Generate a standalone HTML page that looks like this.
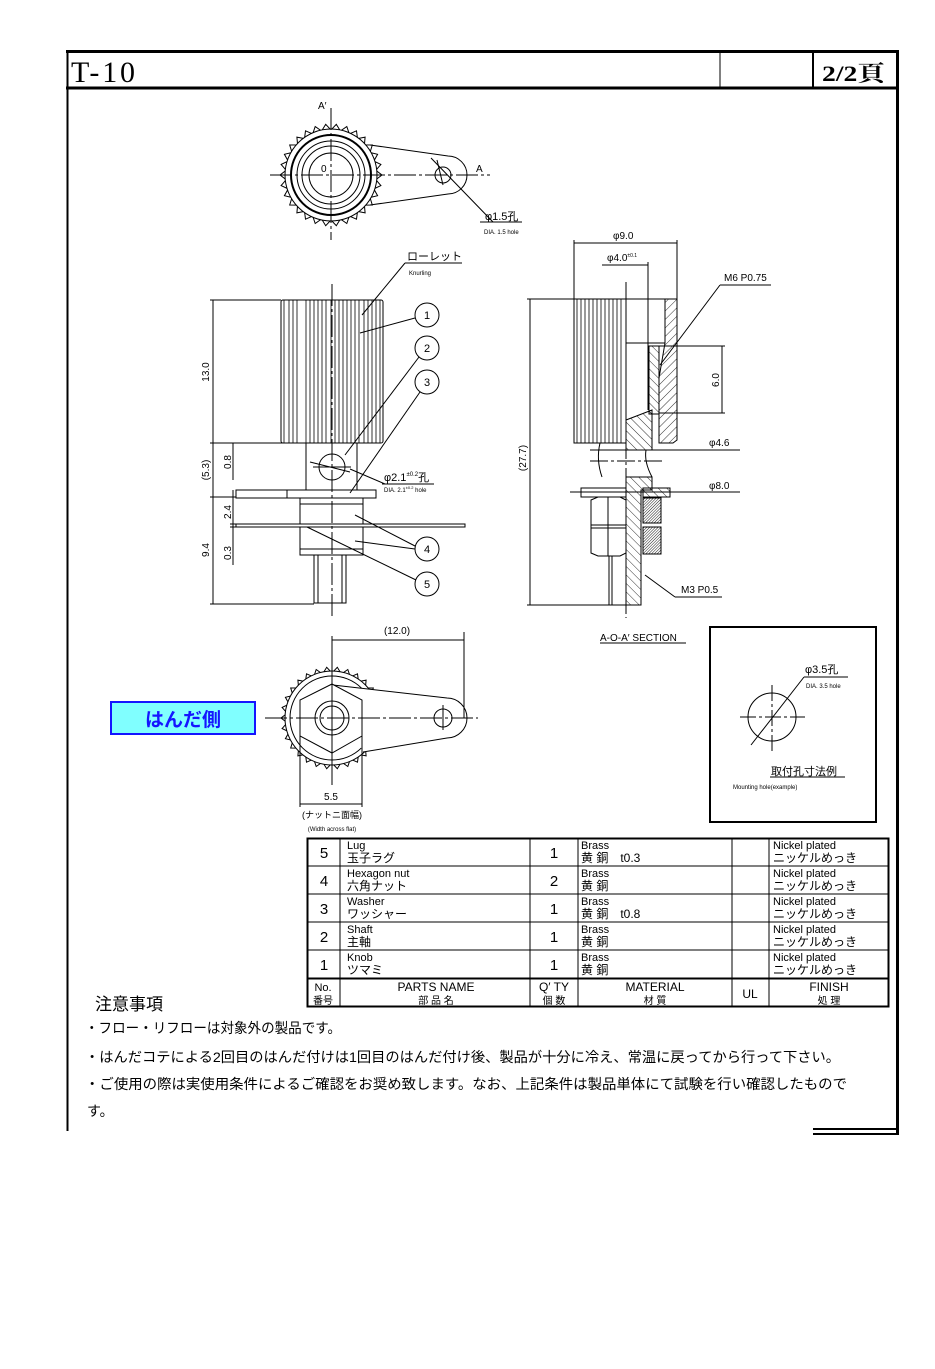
<!DOCTYPE html>
<html><head><meta charset="utf-8">
<style>
html,body{margin:0;padding:0;background:#fff;}
svg{display:block;}
text{font-family:"Liberation Sans","Noto Sans CJK JP",sans-serif;fill:#000;}
</style></head>
<body>
<svg id="s" width="935" height="1369" viewBox="0 0 935 1369" xmlns="http://www.w3.org/2000/svg">
<defs>
<pattern id="h" width="6" height="6" patternUnits="userSpaceOnUse" patternTransform="rotate(45)"><line x1="0" y1="0" x2="0" y2="6" stroke="#000" stroke-width="0.8"/></pattern>
<pattern id="h2" width="6" height="6" patternUnits="userSpaceOnUse" patternTransform="rotate(-45)"><line x1="0" y1="0" x2="0" y2="6" stroke="#000" stroke-width="0.8"/></pattern>
<pattern id="d" width="2" height="2" patternUnits="userSpaceOnUse" patternTransform="rotate(45)"><line x1="0" y1="0" x2="0" y2="2" stroke="#000" stroke-width="0.9"/></pattern>
</defs>
<!-- frame -->
<g stroke="#000" fill="none">
<line x1="66" y1="51.5" x2="899" y2="51.5" stroke-width="3"/>
<line x1="66" y1="88" x2="899" y2="88" stroke-width="3"/>
<line x1="67.5" y1="50" x2="67.5" y2="1131" stroke-width="2"/>
<line x1="897.5" y1="50" x2="897.5" y2="1135" stroke-width="3"/>
<line x1="720" y1="52" x2="720" y2="88" stroke-width="1"/>
<line x1="813" y1="52" x2="813" y2="88" stroke-width="2"/>
<line x1="813" y1="1129" x2="899" y2="1129" stroke-width="2"/>
<line x1="813" y1="1134" x2="899" y2="1134" stroke-width="2"/>
</g>
<text x="71" y="82" font-size="30" textLength="64" lengthAdjust="spacing" style="font-family:'Liberation Serif',serif">T-10</text>
<text x="822" y="81" font-size="22" font-weight="bold" textLength="63" lengthAdjust="spacingAndGlyphs" style="font-family:'Liberation Serif','Noto Serif CJK SC',serif">2/2頁</text>

<!-- TOP VIEW -->
<g stroke="#000" fill="none" stroke-width="1">
<g id="k1"></g>
<circle cx="331" cy="175" r="46" fill="#fff"/>
<circle cx="331" cy="175" r="40" stroke-width="2"/>
<circle cx="331" cy="175" r="34"/>
<circle cx="331" cy="175" r="29"/>
<circle cx="331" cy="175" r="22"/>
<path d="M370 145 L448 156 A19 19 0 0 1 448 194 L370 205"/>
<circle cx="443" cy="175" r="8"/>
<line x1="270" y1="175" x2="490" y2="175" stroke-dasharray="22,3,3,3"/>
<line x1="331" y1="108" x2="331" y2="240" stroke-dasharray="22,3,3,3"/>
<line x1="437" y1="160" x2="443" y2="185"/>
<line x1="431" y1="158" x2="493" y2="222"/>
<line x1="480" y1="222" x2="522" y2="222"/>
</g>
<text x="318" y="109" font-size="10">A′</text>
<text x="476" y="172" font-size="10">A</text>
<text x="321" y="172" font-size="10">0</text>
<text x="485" y="220" font-size="11">φ1.5孔</text>
<text x="484" y="234" font-size="6">DIA. 1.5 hole</text>

<!-- FRONT VIEW -->
<g stroke="#000" fill="none" stroke-width="1">
<rect x="281" y="300" width="102" height="143" rx="2" fill="#fff"/>
<g id="kl1"></g>
<rect x="306" y="443" width="51" height="47"/>
<circle cx="332" cy="467" r="13"/>
<line x1="310" y1="462" x2="350" y2="472"/>
<rect x="236" y="490" width="140" height="8"/>
<line x1="287" y1="490" x2="287" y2="498"/>
<rect x="300" y="498" width="63" height="57"/>
<line x1="300" y1="504" x2="363" y2="504"/><line x1="300" y1="549" x2="363" y2="549"/>
<rect x="236" y="524" width="229" height="3" fill="#fff"/>
<rect x="314" y="555" width="32" height="48"/>
<line x1="318" y1="555" x2="318" y2="603"/><line x1="342" y1="555" x2="342" y2="603"/>
<line x1="332" y1="284" x2="332" y2="618" stroke-dasharray="22,3,3,3"/>
<line x1="313" y1="467" x2="351" y2="467"/>
<line x1="210" y1="300" x2="281" y2="300"/><line x1="210" y1="443" x2="306" y2="443"/>
<line x1="210" y1="497" x2="236" y2="497"/><line x1="210" y1="604" x2="314" y2="604"/>
<line x1="213" y1="300" x2="213" y2="604"/>
<line x1="233" y1="443" x2="233" y2="480"/><line x1="233" y1="490" x2="233" y2="565"/>
<line x1="230" y1="524" x2="236" y2="524"/><line x1="230" y1="527" x2="236" y2="527"/>
<circle cx="427" cy="315" r="12"/><circle cx="427" cy="348" r="12"/><circle cx="427" cy="382" r="12"/>
<circle cx="427" cy="549" r="12"/><circle cx="427" cy="584" r="12"/>
<line x1="360" y1="333" x2="415" y2="318"/>
<line x1="345" y1="455" x2="419" y2="357"/>
<line x1="350" y1="493" x2="420" y2="392"/>
<line x1="355" y1="515" x2="415" y2="546"/>
<line x1="355" y1="541" x2="415" y2="549"/>
<line x1="307" y1="527" x2="416" y2="580"/>
<line x1="362" y1="315" x2="405" y2="263"/><line x1="405" y1="263" x2="462" y2="263"/>
<line x1="350" y1="469" x2="385" y2="484"/><line x1="382" y1="484" x2="434" y2="484"/>
</g>
<g font-size="11" text-anchor="middle">
<text x="427" y="319">1</text><text x="427" y="352">2</text><text x="427" y="386">3</text><text x="427" y="553">4</text><text x="427" y="588">5</text>
</g>
<text x="407" y="260" font-size="11">ローレット</text>
<text x="409" y="275" font-size="6">Knurling</text>
<text x="384" y="481" font-size="11">φ2.1<tspan font-size="6" dy="-5">±0.2</tspan><tspan dy="5">孔</tspan></text>
<text x="384" y="492" font-size="6">DIA. 2.1<tspan dy="-3" font-size="4">±0.2</tspan><tspan dy="3"> hole</tspan></text>
<g font-size="10" text-anchor="middle">
<text transform="translate(209 372) rotate(-90)">13.0</text>
<text transform="translate(209 470) rotate(-90)">(5.3)</text>
<text transform="translate(209 550) rotate(-90)">9.4</text>
<text transform="translate(231 462) rotate(-90)">0.8</text>
<text transform="translate(231 512) rotate(-90)">2.4</text>
<text transform="translate(231 553) rotate(-90)">0.3</text>
</g>

<!-- SECTION VIEW -->
<g stroke="#000" fill="none" stroke-width="1">
<rect x="574" y="299" width="52" height="144" fill="#fff"/>
<g id="kl2"></g>
<line x1="574" y1="299" x2="677" y2="299"/>
<path d="M665 299 L677 299 L677 440 L673 443 L659 443 L659 378 L665 343 Z" fill="url(#h)"/>
<path d="M665 299 L665 343" />
<path d="M649 346 L659 346 L659 414 L649 414 Z" fill="url(#h2)"/>
<line x1="626" y1="343" x2="665" y2="343"/>
<line x1="649" y1="346" x2="649" y2="410"/>
<path d="M626 420 L652 410 L652 450 L626 450 Z" fill="url(#h2)"/>
<path d="M626 477 L652 477 L652 490 L641 490 L641 605 L626 605 Z" fill="url(#h2)"/>
<path d="M643 488 L670 488 L670 497 L643 497 Z" fill="url(#h2)"/>
<rect x="643" y="498" width="18" height="25" fill="url(#d)"/>
<rect x="643" y="527" width="18" height="27" fill="url(#d)"/>
<rect x="581" y="488" width="45" height="9" fill="#fff"/>
<path d="M591 500 L598 497 L620 497 L626 500 L626 553 L620 556 L598 556 L591 553 Z"/>
<line x1="608" y1="497" x2="608" y2="556"/><line x1="591" y1="525" x2="626" y2="525"/><line x1="591" y1="528" x2="626" y2="528"/>
<line x1="609" y1="556" x2="609" y2="605"/><line x1="612" y1="556" x2="612" y2="605"/>
<path d="M600 443 Q596 460 602 477"/><path d="M646 450 Q644 462 652 477"/>
<line x1="590" y1="461" x2="665" y2="461" stroke-dasharray="18,3,3,3"/>
<line x1="626" y1="282" x2="626" y2="618" stroke-dasharray="22,3,3,3"/>
<line x1="574" y1="240" x2="574" y2="299"/><line x1="677" y1="240" x2="677" y2="299"/>
<line x1="574" y1="243" x2="677" y2="243"/>
<line x1="648" y1="262" x2="648" y2="410"/><line x1="602" y1="265" x2="648" y2="265"/>
<line x1="527" y1="299" x2="574" y2="299"/><line x1="527" y1="605" x2="641" y2="605"/>
<line x1="530" y1="299" x2="530" y2="605"/>
<line x1="659" y1="346" x2="725" y2="346"/><line x1="659" y1="413" x2="725" y2="413"/>
<line x1="722" y1="346" x2="722" y2="413"/>
<line x1="590" y1="450" x2="740" y2="450"/>
<line x1="570" y1="492" x2="740" y2="492"/>
<line x1="660" y1="365" x2="720" y2="285"/><line x1="720" y1="285" x2="771" y2="285"/>
<line x1="645" y1="575" x2="675" y2="597"/><line x1="675" y1="597" x2="722" y2="597"/>
</g>
<g font-size="10">
<text x="613" y="239">φ9.0</text>
<text x="607" y="261">φ4.0<tspan font-size="5" dy="-4">±0.1</tspan></text>
<text x="724" y="281">M6 P0.75</text>
<text transform="translate(719 380) rotate(-90)" text-anchor="middle">6.0</text>
<text x="709" y="446">φ4.6</text>
<text x="709" y="489">φ8.0</text>
<text x="681" y="593">M3 P0.5</text>
<text transform="translate(526 458) rotate(-90)" text-anchor="middle">(27.7)</text>
<text x="600" y="641" font-size="10">A-O-A′ SECTION</text>
</g>
<line x1="600" y1="643" x2="686" y2="643" stroke="#000"/>

<!-- BOTTOM VIEW -->
<g stroke="#000" fill="none" stroke-width="1">
<g id="k2"></g>
<circle cx="332" cy="718" r="47" fill="#fff"/>
<circle cx="332" cy="718" r="42"/>
<path d="M333 685 L447 698 A20 20 0 0 1 447 738 L363 752" fill="#fff"/>
<circle cx="443" cy="718" r="9"/>
<path d="M332 684 L362 700 L362 736 L332 753 L300 736 L300 700 Z" fill="#fff"/>
<circle cx="332" cy="718" r="17"/><circle cx="332" cy="718" r="12"/>
<line x1="265" y1="718" x2="478" y2="718" stroke-dasharray="22,3,3,3"/>
<line x1="332" y1="636" x2="332" y2="785"/>
<line x1="443" y1="705" x2="443" y2="730"/>
<line x1="332" y1="640" x2="464" y2="640"/><line x1="464" y1="632" x2="464" y2="718"/>
<line x1="300" y1="736" x2="300" y2="807"/><line x1="362" y1="736" x2="362" y2="807"/>
<line x1="300" y1="804" x2="362" y2="804"/>
</g>
<text x="397" y="634" font-size="10" text-anchor="middle">(12.0)</text>
<text x="331" y="800" font-size="10" text-anchor="middle">5.5</text>
<text x="332" y="818" font-size="9" text-anchor="middle">(ナットニ面幅)</text>
<text x="332" y="831" font-size="6" text-anchor="middle">(Width across flat)</text>
<rect x="111" y="702" width="144" height="32" fill="#80ffff" stroke="#1515ff" stroke-width="2"/>
<text x="183" y="726" font-size="19" font-weight="bold" text-anchor="middle" style="fill:#1515ff">はんだ側</text>

<!-- MOUNTING HOLE BOX -->
<g stroke="#000" fill="none">
<rect x="710" y="627" width="166" height="195" stroke-width="2"/>
<circle cx="772" cy="717" r="24"/>
<line x1="740" y1="717" x2="805" y2="717" stroke-dasharray="16,3,3,3"/>
<line x1="772" y1="685" x2="772" y2="752" stroke-dasharray="16,3,3,3"/>
<line x1="751" y1="745" x2="804" y2="677"/><line x1="804" y1="677" x2="848" y2="677"/>
<line x1="770" y1="777" x2="845" y2="777"/>
</g>
<text x="805" y="673" font-size="11">φ3.5孔</text>
<text x="806" y="688" font-size="6">DIA. 3.5 hole</text>
<text x="771" y="775" font-size="11">取付孔寸法例</text>
<text x="733" y="789" font-size="6">Mounting hole(example)</text>

<!-- TABLE -->
<g stroke="#000" fill="none">
<rect x="307.5" y="838.5" width="581" height="168" stroke-width="2"/>
<line x1="340" y1="838" x2="340" y2="1007"/><line x1="530" y1="838" x2="530" y2="1007"/>
<line x1="578" y1="838" x2="578" y2="1007"/><line x1="732" y1="838" x2="732" y2="1007"/>
<line x1="769" y1="838" x2="769" y2="1007"/>
<line x1="307" y1="866" x2="889" y2="866"/><line x1="307" y1="894" x2="889" y2="894"/>
<line x1="307" y1="922" x2="889" y2="922"/><line x1="307" y1="950" x2="889" y2="950"/>
<line x1="307" y1="978.5" x2="889" y2="978.5" stroke-width="2"/>
</g>
<g id="tbl" font-size="11"></g>
<g font-size="12" text-anchor="middle">
<text x="323" y="991" font-size="11">No.</text><text x="323" y="1004" font-size="10">番号</text>
<text x="436" y="991">PARTS  NAME</text><text x="436" y="1004" font-size="10">部 品 名</text>
<text x="554" y="991">Q′ TY</text><text x="554" y="1004" font-size="10">個 数</text>
<text x="655" y="991">MATERIAL</text><text x="655" y="1004" font-size="10">材 質</text>
<text x="750" y="998">UL</text>
<text x="829" y="991">FINISH</text><text x="829" y="1004" font-size="10">処 理</text>
</g>

<!-- NOTES -->
<text x="95" y="1010" font-size="17" fill="#333">注意事項</text>
<g font-size="14">
<text x="85" y="1033" textLength="256" lengthAdjust="spacingAndGlyphs">・フロー・リフローは対象外の製品です。</text>
<text x="85" y="1062" textLength="755" lengthAdjust="spacingAndGlyphs">・はんだコテによる2回目のはんだ付けは1回目のはんだ付け後、製品が十分に冷え、常温に戻ってから行って下さい。</text>
<text x="85" y="1089" textLength="762" lengthAdjust="spacingAndGlyphs">・ご使用の際は実使用条件によるご確認をお奨め致します。なお、上記条件は製品単体にて試験を行い確認したもので</text>
<text x="87" y="1116">す。</text>
</g>
</svg>
<script>
var NS="http://www.w3.org/2000/svg";
function el(p,t,a,txt){var e=document.createElementNS(NS,t);for(var k in a)e.setAttribute(k,a[k]);if(txt!==undefined)e.textContent=txt;p.appendChild(e);return e;}
function teeth(id,cx,cy,r1,r2,n){var g=document.getElementById(id),pts=[];for(var i=0;i<n*2;i++){var a=i*Math.PI/n,r=i%2?r2:r1;pts.push((cx+r*Math.cos(a)).toFixed(1)+","+(cy+r*Math.sin(a)).toFixed(1));}el(g,"polygon",{points:pts.join(" "),fill:"#fff",stroke:"#000"});}
teeth("k1",331,175,51,45,30);teeth("k2",332,718,51,45,30);
var g1=document.getElementById("kl1");
[284,289,293,297,306,310,314,318,322,326,331,335,339,343,347,351,355,359,364,368,372,376,380].forEach(function(x){el(g1,"line",{x1:x,y1:300,x2:x,y2:443,stroke:"#000","stroke-width":0.8});});
var g2=document.getElementById("kl2");
[577,581,585,589,593,597,601,605,609,613,617,621].forEach(function(x){el(g2,"line",{x1:x,y1:299,x2:x,y2:443,stroke:"#000","stroke-width":0.8});});
var rows=[["5","Lug","玉子ラグ","1","黄 銅　t0.3"],["4","Hexagon nut","六角ナット","2","黄 銅"],["3","Washer","ワッシャー","1","黄 銅　t0.8"],["2","Shaft","主軸","1","黄 銅"],["1","Knob","ツマミ","1","黄 銅"]];
var t=document.getElementById("tbl");
rows.forEach(function(r,i){var y=838+i*28;
el(t,"text",{x:324,y:y+20,"font-size":15,"text-anchor":"middle"},r[0]);
el(t,"text",{x:347,y:y+11,"font-size":11},r[1]);
el(t,"text",{x:347,y:y+24,"font-size":12},r[2]);
el(t,"text",{x:554,y:y+20,"font-size":15,"text-anchor":"middle"},r[3]);
el(t,"text",{x:581,y:y+11,"font-size":11},"Brass");
el(t,"text",{x:581,y:y+24,"font-size":12},r[4]);
el(t,"text",{x:773,y:y+11,"font-size":11},"Nickel plated");
el(t,"text",{x:773,y:y+24,"font-size":12},"ニッケルめっき");
});
</script>
</body></html>
